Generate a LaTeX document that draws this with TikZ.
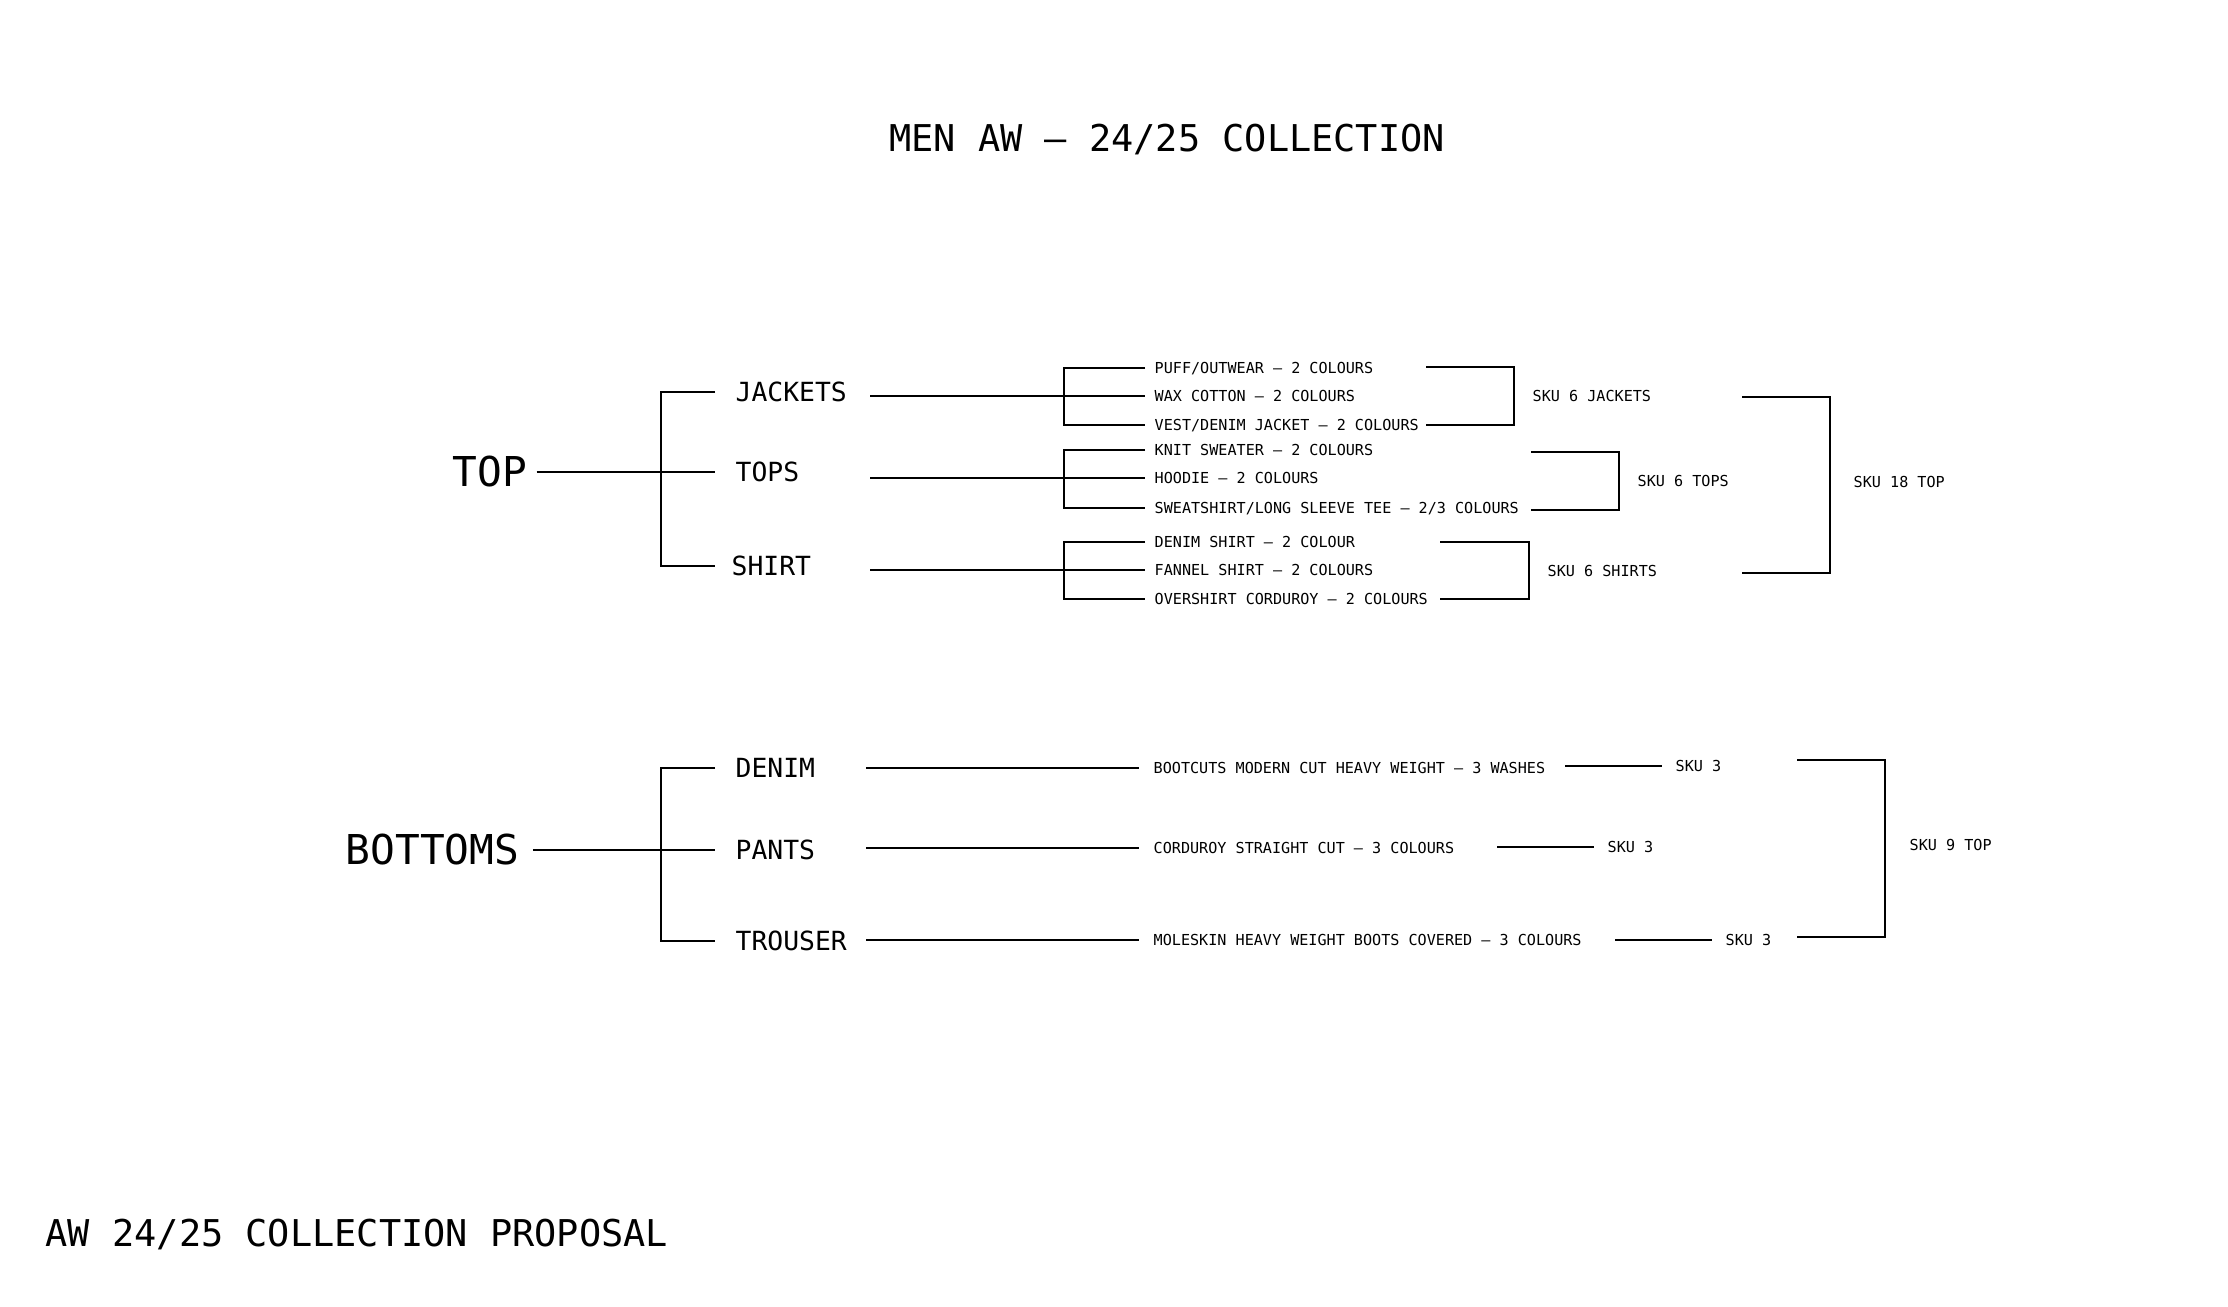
\documentclass[tikz,border=0pt]{standalone}
\usepackage{fontspec}
\setmainfont{DejaVu Sans Mono}
\usetikzlibrary{calc}

\tikzset{
  head/.style={font=\fontsize{11.7}{14}\selectfont,inner sep=0pt,text height=8.5pt,text depth=0pt,anchor=west},
  group/.style={font=\fontsize{7.5}{9}\selectfont,inner sep=0pt,text height=5.5pt,text depth=0pt,anchor=west},
  item/.style={font=\fontsize{4.3}{5}\selectfont,inner sep=0pt,text height=3.1pt,text depth=0pt,anchor=west},
  banner/.style={font=\fontsize{10.5}{12}\selectfont,inner sep=0pt,text height=7.7pt,text depth=0pt},
  trunk/.style={line width=0.6pt},
  twig/.style={line width=0.32pt},
}

\begin{document}
\begin{tikzpicture}[x=0.01cm,y=-0.01cm]
        \useasboundingbox (0,0) rectangle (2228,1306);
        \node[banner] (title) at (1167,138) {MEN AW – 24/25 COLLECTION};
        \node[banner,anchor=west] (caption) at (45,1233) {AW 24/25 COLLECTION PROPOSAL};
        \coordinate (arm) at (715,0);
        \coordinate (fork) at (661,0);
        % top half
        \node[head] (top) at (452,472) {TOP};
        \node[group] (jackets) at (735,392) {JACKETS};
        \node[group] (tops) at (735,472) {TOPS};
        \node[group] (shirt) at (731,566) {SHIRT};
        \draw[trunk] ($(top.east)+(9,0)$) -- (tops -| arm);
        \draw[trunk] (jackets -| arm) -| (fork |- tops) |- (shirt -| arm);
        \node[item] (puff) at (1154,368) {PUFF/OUTWEAR – 2 COLOURS};
        \node[item] (wax) at (1154,396) {WAX COTTON – 2 COLOURS};
        \node[item] (vest) at (1154,425) {VEST/DENIM JACKET – 2 COLOURS};
        \node[item] (knit) at (1154,450) {KNIT SWEATER – 2 COLOURS};
        \node[item] (hoodie) at (1154,478) {HOODIE – 2 COLOURS};
        \node[item] (sweat) at (1154,508) {SWEATSHIRT/LONG SLEEVE TEE – 2/3 COLOURS};
        \node[item] (denimshirt) at (1154,542) {DENIM SHIRT – 2 COLOUR};
        \node[item] (fannel) at (1154,570) {FANNEL SHIRT – 2 COLOURS};
        \node[item] (overshirt) at (1154,599) {OVERSHIRT CORDUROY – 2 COLOURS};
        \coordinate (out) at (870,0);
        \coordinate (twigend) at (1145,0);
        \coordinate (twigfork) at (1064,0);
        \foreach \a/\m/\b in {puff/wax/vest,knit/hoodie/sweat,denimshirt/fannel/overshirt} {
          \draw[twig] (\m -| out) -- (\m -| twigend);
          \draw[twig] (\a -| twigend) -| (twigfork |- \m) |- (\b -| twigend);
        }
        \node[item] (skujackets) at (1532,396) {SKU 6 JACKETS};
        \node[item] (skutops) at (1637,481) {SKU 6 TOPS};
        \node[item] (skushirts) at (1547,571) {SKU 6 SHIRTS};
        \node[item] (skutop) at (1853,482) {SKU 18 TOP};
        \coordinate (jA) at (1426,367); \coordinate (jB) at (1426,425);
        \coordinate (tA) at (1531,452); \coordinate (tB) at (1531,510);
        \coordinate (sA) at (1440,542); \coordinate (sB) at (1440,599);
        \coordinate (bA) at (1742,397); \coordinate (bB) at (1742,573);
        \draw[twig] (jA) -| ($(skujackets.west)+(-18,0)$) |- (jB);
        \draw[twig] (tA) -| ($(skutops.west)+(-18,0)$) |- (tB);
        \draw[twig] (sA) -| ($(skushirts.west)+(-18,0)$) |- (sB);
        \draw[twig] (bA) -| ($(skutop.west)+(-23,0)$) |- (bB);
        % bottom half
        \node[head] (bottoms) at (345,850) {BOTTOMS};
        \node[group] (denim) at (735,768) {DENIM};
        \node[group] (pants) at (735,850) {PANTS};
        \node[group] (trouser) at (735,941) {TROUSER};
        \draw[trunk] ($(bottoms.east)+(13,0)$) -- (pants -| arm);
        \draw[trunk] (denim -| arm) -| (fork |- pants) |- (trouser -| arm);
        \node[item] (bootcuts) at (1153,768) {BOOTCUTS MODERN CUT HEAVY WEIGHT – 3 WASHES};
        \node[item] (corduroy) at (1153,848) {CORDUROY STRAIGHT CUT – 3 COLOURS};
        \node[item] (moleskin) at (1153,940) {MOLESKIN HEAVY WEIGHT BOOTS COVERED – 3 COLOURS};
        \coordinate (out2) at (866,0);
        \coordinate (twigend2) at (1139,0);
        \foreach \m in {bootcuts,corduroy,moleskin}
          \draw[twig] (\m -| out2) -- (\m -| twigend2);
        \node[item] (skudenim) at (1675,766) {SKU 3};
        \node[item] (skupants) at (1607,847) {SKU 3};
        \node[item] (skutrouser) at (1725,940) {SKU 3};
        \foreach \s in {skudenim,skupants,skutrouser}
          \draw[twig] ($(\s.west)+(-110,0)$) -- ($(\s.west)+(-13,0)$);
        \node[item] (skubottom) at (1909,845) {SKU 9 TOP};
        \coordinate (cA) at (1797,760); \coordinate (cB) at (1797,937);
        \draw[twig] (cA) -| ($(skubottom.west)+(-24,0)$) |- (cB);
      \end{tikzpicture}
\end{document}
